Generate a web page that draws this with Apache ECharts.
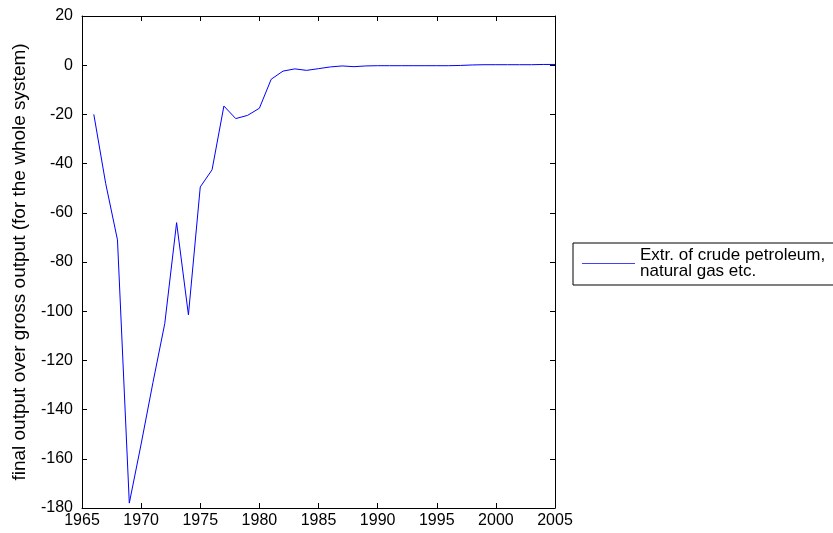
<!DOCTYPE html>
<html><head><meta charset="utf-8">
<script src="https://cdn.jsdelivr.net/npm/echarts@6/dist/echarts.min.js"></script>
<style>html,body{margin:0;padding:0;background:#fff}#c{width:833px;height:533px}</style>
</head><body><div id="c"></div>
<script>
const years = [1966,1967,1968,1969,1970,1971,1972,1973,1974,1975,1976,1977,1978,1979,1980,1981,1982,1983,1984,1985,1986,1987,1988,1989,1990,1991,1992,1993,1994,1995,1996,1997,1998,1999,2000,2001,2002,2003,2004,2005];
const values = [-20,-48,-71,-178,-154,-129,-105,-64,-101.5,-49.5,-42.5,-16.6,-21.7,-20.4,-17.5,-5.7,-2.4,-1.5,-2.1,-1.4,-0.7,-0.3,-0.6,-0.3,-0.2,-0.2,-0.2,-0.2,-0.2,-0.2,-0.2,-0.1,0.1,0.2,0.2,0.2,0.2,0.2,0.3,0.3];
const seriesName = 'Extr. of crude petroleum,\nnatural gas etc.';
const yTitle = 'final output over gross output (for the whole system)';

const chart = echarts.init(document.getElementById('c'));
const font = 'Arial, "Liberation Sans", sans-serif';
const axisCommon = {
  axisLine:{show:true, onZero:false, lineStyle:{color:'#000', width:1}},
  axisTick:{show:true, inside:true, length:5, lineStyle:{color:'#000'}},
  splitLine:{show:false}
};
chart.setOption({
  animation:false,
  backgroundColor:'#fff',
  grid:{left:82, top:16, right:278, bottom:25, containLabel:false},
  legend:{
    show:true, orient:'vertical', left:573, top:243,
    data:[{name:seriesName, icon:'rect'}],
    itemWidth:53, itemHeight:1, itemGap:5,
    itemStyle:{color:'#4040ff', borderWidth:0},
    borderColor:'#000', borderWidth:1, padding:[4,80,5,9],
    textStyle:{fontFamily:font, fontSize:17, color:'#000', lineHeight:16}
  },
  xAxis:[
    Object.assign({type:'value', min:1965, max:2005, interval:5, position:'bottom',
      axisLabel:{color:'#000', fontFamily:font, fontSize:16, margin:5, formatter:v=>String(v)}}, axisCommon),
    Object.assign({type:'value', min:1965, max:2005, interval:5, position:'top',
      axisLabel:{show:false}}, axisCommon)
  ],
  yAxis:[
    Object.assign({type:'value', min:-180, max:20, interval:20, position:'left',
      name:yTitle, nameLocation:'middle', nameGap:53,
      nameTextStyle:{fontFamily:font, fontSize:19, color:'#000'},
      axisLabel:{color:'#000', fontFamily:font, fontSize:16, margin:9}}, axisCommon),
    Object.assign({type:'value', min:-180, max:20, interval:20, position:'right',
      axisLabel:{show:false}}, axisCommon)
  ],
  series:[{
    name:seriesName, type:'line', xAxisIndex:0, yAxisIndex:0,
    data: years.map((y,i)=>[y, values[i]]),
    showSymbol:false, symbol:'none',
    lineStyle:{color:'#0000ff', width:1}, itemStyle:{color:'#0000ff'}
  }]
});
</script></body></html>
